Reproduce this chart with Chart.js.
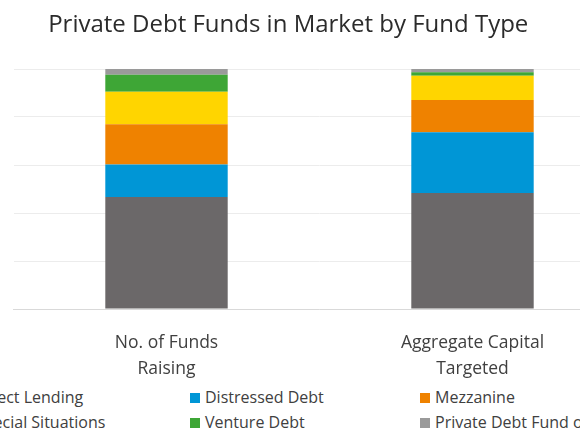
<!DOCTYPE html>
<html>
<head>
<meta charset="utf-8">
<script src="https://cdn.jsdelivr.net/npm/chart.js@4"></script>
<style>
  html, body { margin: 0; padding: 0; width: 580px; height: 435px; overflow: hidden; background: #fff; }
  #wrap { position: absolute; left: -49px; top: 0; width: 675px; height: 380px; }
  #legend { position: absolute; left: 0; top: 385px; width: 700px; height: 50px;
            font-family: "Open Sans", "Noto Sans", sans-serif; font-size: 16px; color: #404040; }
  .item { position: absolute; white-space: nowrap; line-height: 20px; }
  .item span.box { display: inline-block; width: 10px; height: 10px; margin-right: 5px; vertical-align: 0px; }
</style>
</head>
<body>
<div id="wrap"><canvas id="chart"></canvas></div>
<div id="legend"></div>
<script>
// categories and fund type shares (%)
const categories = [['No. of Funds', 'Raising'], ['Aggregate Capital', 'Targeted']];
const fundTypes = ['Direct Lending', 'Distressed Debt', 'Mezzanine', 'Special Situations', 'Venture Debt', 'Private Debt Fund of Funds'];
const directLending = [46.7, 48.3];
const distressedDebt = [13.5, 25.3];
const mezzanine = [16.8, 13.5];
const specialSituations = [13.5, 10.1];
const ventureDebt = [7.1, 1.4];
const fundOfFunds = [2.4, 1.4];
const colors = ['#6b6869', '#0096d6', '#ef8200', '#ffd500', '#3ea636', '#9a9a9a'];

const seriesValues = [directLending, distressedDebt, mezzanine, specialSituations, ventureDebt, fundOfFunds];

const ctx = document.getElementById('chart');
const chart = new Chart(ctx, {
  type: 'bar',
  data: {
    labels: categories,
    datasets: fundTypes.map((name, i) => ({
      label: name,
      data: seriesValues[i],
      backgroundColor: colors[i],
      borderWidth: 0,
      barPercentage: 1,
      categoryPercentage: 0.4
    }))
  },
  options: {
    responsive: true,
    maintainAspectRatio: false,
    animation: false,
    layout: { padding: { left: 0, right: 0.5, top: 0, bottom: 0 } },
    plugins: {
      legend: { display: false },
      tooltip: { enabled: false },
      title: {
        display: true,
        text: 'Private Debt Funds in Market by Fund Type',
        color: '#2b2b2b',
        font: { family: 'Open Sans', size: 24, weight: 'normal' },
        padding: { top: 10.5, bottom: 29.7 }
      }
    },
    scales: {
      x: {
        stacked: true,
        grid: { display: false },
        border: { color: '#d9d9d9', width: 1 },
        ticks: {
          color: '#404040',
          font: { family: 'Open Sans', size: 17.5, lineHeight: 1.486 },
          padding: 13,
          maxRotation: 0
        },
        afterFit: (scale) => { scale.height = 71; }
      },
      y: {
        stacked: true,
        min: 0,
        max: 100,
        ticks: { display: false, stepSize: 20 },
        grid: { color: '#ececec', drawTicks: false },
        border: { display: false },
        afterFit: (scale) => { scale.width = 62.5; }
      }
    }
  }
});

// legend laid out in columns like the original
const legendBox = document.getElementById('legend');
const colX = [-40, 190, 420];
chart.data.datasets.forEach((ds, i) => {
  const item = document.createElement('div');
  item.className = 'item';
  item.style.left = colX[i % 3] + 'px';
  item.style.top = (i < 3 ? 2 : 27) + 'px';
  item.innerHTML = '<span class="box" style="background:' + ds.backgroundColor + '"></span>' + ds.label;
  legendBox.appendChild(item);
});
</script>
</body>
</html>
